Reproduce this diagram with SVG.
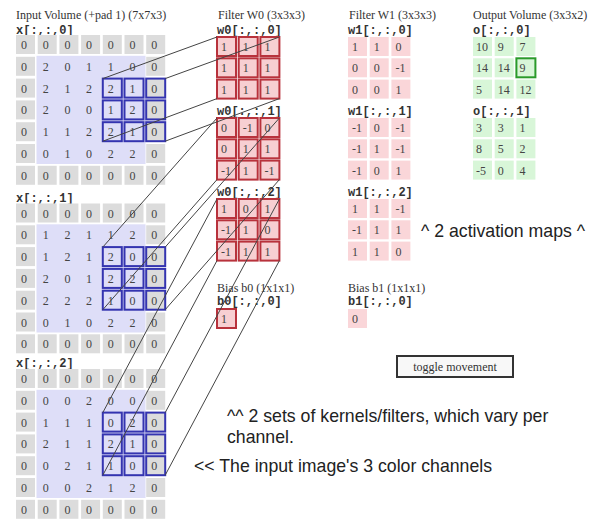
<svg xmlns="http://www.w3.org/2000/svg" width="599" height="523" viewBox="0 0 599 523">
<style>
.t{font-family:"Liberation Serif","Times New Roman",serif;font-size:12px;fill:#333}
.m{font-family:"Liberation Mono","Courier New",monospace;font-size:12px;font-weight:bold;fill:#333}
.n{font-family:"Liberation Serif","Times New Roman",serif;font-size:12px;fill:#444}
.s{font-family:"Liberation Sans",Arial,sans-serif;font-size:17.7px;fill:#222}
.pad{fill:#dcdcdc}
.in{fill:#dedef8}
.win{fill:none;stroke:#3434b0;stroke-width:2}
.wf{fill:#f7cfd2;stroke:#b8323c;stroke-width:2}
.wp{fill:#fad6d9}
.og{fill:#d8f6d8}
.oh{fill:none;stroke:#2a9a2a;stroke-width:2}
.ln{stroke:#444;stroke-width:1;fill:none}
</style>
<rect width="599" height="523" fill="#fff"/>

<g id="input">
<text class="t" x="16" y="19">Input Volume (+pad 1) (7x7x3)</text>
</g>

<g id="x0">
<text class="m" x="16" y="34">x[:,:,0]</text>
<g>
<rect class="pad" x="16" y="35" width="19" height="19"/><rect class="pad" x="37.7" y="35" width="19" height="19"/><rect class="pad" x="59.4" y="35" width="19" height="19"/><rect class="pad" x="81.1" y="35" width="19" height="19"/><rect class="pad" x="102.8" y="35" width="19" height="19"/><rect class="pad" x="124.5" y="35" width="19" height="19"/><rect class="pad" x="146.2" y="35" width="19" height="19"/>
<rect class="pad" x="16" y="165.8" width="19" height="19"/><rect class="pad" x="37.7" y="165.8" width="19" height="19"/><rect class="pad" x="59.4" y="165.8" width="19" height="19"/><rect class="pad" x="81.1" y="165.8" width="19" height="19"/><rect class="pad" x="102.8" y="165.8" width="19" height="19"/><rect class="pad" x="124.5" y="165.8" width="19" height="19"/><rect class="pad" x="146.2" y="165.8" width="19" height="19"/>
<rect class="pad" x="16" y="56.8" width="19" height="19"/><rect class="pad" x="16" y="78.6" width="19" height="19"/><rect class="pad" x="16" y="100.4" width="19" height="19"/><rect class="pad" x="16" y="122.2" width="19" height="19"/><rect class="pad" x="16" y="144" width="19" height="19"/>
<rect class="pad" x="146.2" y="56.8" width="19" height="19"/><rect class="pad" x="146.2" y="78.6" width="19" height="19"/><rect class="pad" x="146.2" y="100.4" width="19" height="19"/><rect class="pad" x="146.2" y="122.2" width="19" height="19"/><rect class="pad" x="146.2" y="144" width="19" height="19"/>
<rect class="in" x="36.5" y="55.8" width="109" height="108.2"/>
</g>
<g class="n">
<text x="21" y="49">0</text><text x="42.7" y="49">0</text><text x="64.4" y="49">0</text><text x="86.1" y="49">0</text><text x="107.8" y="49">0</text><text x="129.5" y="49">0</text><text x="151.2" y="49">0</text>
<text x="21" y="70.8">0</text><text x="42.7" y="70.8">2</text><text x="64.4" y="70.8">0</text><text x="86.1" y="70.8">1</text><text x="107.8" y="70.8">1</text><text x="129.5" y="70.8">0</text><text x="151.2" y="70.8">0</text>
<text x="21" y="92.6">0</text><text x="42.7" y="92.6">2</text><text x="64.4" y="92.6">1</text><text x="86.1" y="92.6">2</text><text x="107.8" y="92.6">2</text><text x="129.5" y="92.6">1</text><text x="151.2" y="92.6">0</text>
<text x="21" y="114.4">0</text><text x="42.7" y="114.4">2</text><text x="64.4" y="114.4">0</text><text x="86.1" y="114.4">0</text><text x="107.8" y="114.4">1</text><text x="129.5" y="114.4">2</text><text x="151.2" y="114.4">0</text>
<text x="21" y="136.2">0</text><text x="42.7" y="136.2">1</text><text x="64.4" y="136.2">1</text><text x="86.1" y="136.2">2</text><text x="107.8" y="136.2">2</text><text x="129.5" y="136.2">1</text><text x="151.2" y="136.2">0</text>
<text x="21" y="158">0</text><text x="42.7" y="158">0</text><text x="64.4" y="158">1</text><text x="86.1" y="158">0</text><text x="107.8" y="158">2</text><text x="129.5" y="158">2</text><text x="151.2" y="158">0</text>
<text x="21" y="179.8">0</text><text x="42.7" y="179.8">0</text><text x="64.4" y="179.8">0</text><text x="86.1" y="179.8">0</text><text x="107.8" y="179.8">0</text><text x="129.5" y="179.8">0</text><text x="151.2" y="179.8">0</text>
</g>
<g>
<rect class="win" x="102.8" y="78.6" width="19" height="19"/><rect class="win" x="124.5" y="78.6" width="19" height="19"/><rect class="win" x="146.2" y="78.6" width="19" height="19"/>
<rect class="win" x="102.8" y="100.4" width="19" height="19"/><rect class="win" x="124.5" y="100.4" width="19" height="19"/><rect class="win" x="146.2" y="100.4" width="19" height="19"/>
<rect class="win" x="102.8" y="122.2" width="19" height="19"/><rect class="win" x="124.5" y="122.2" width="19" height="19"/><rect class="win" x="146.2" y="122.2" width="19" height="19"/>
</g>
</g>

<g id="x1">
<text class="m" x="16" y="202">x[:,:,1]</text>
<g>
<rect class="pad" x="16" y="203.5" width="19" height="19"/><rect class="pad" x="37.7" y="203.5" width="19" height="19"/><rect class="pad" x="59.4" y="203.5" width="19" height="19"/><rect class="pad" x="81.1" y="203.5" width="19" height="19"/><rect class="pad" x="102.8" y="203.5" width="19" height="19"/><rect class="pad" x="124.5" y="203.5" width="19" height="19"/><rect class="pad" x="146.2" y="203.5" width="19" height="19"/>
<rect class="pad" x="16" y="334.3" width="19" height="19"/><rect class="pad" x="37.7" y="334.3" width="19" height="19"/><rect class="pad" x="59.4" y="334.3" width="19" height="19"/><rect class="pad" x="81.1" y="334.3" width="19" height="19"/><rect class="pad" x="102.8" y="334.3" width="19" height="19"/><rect class="pad" x="124.5" y="334.3" width="19" height="19"/><rect class="pad" x="146.2" y="334.3" width="19" height="19"/>
<rect class="pad" x="16" y="225.3" width="19" height="19"/><rect class="pad" x="16" y="247.1" width="19" height="19"/><rect class="pad" x="16" y="268.9" width="19" height="19"/><rect class="pad" x="16" y="290.7" width="19" height="19"/><rect class="pad" x="16" y="312.5" width="19" height="19"/>
<rect class="pad" x="146.2" y="225.3" width="19" height="19"/><rect class="pad" x="146.2" y="247.1" width="19" height="19"/><rect class="pad" x="146.2" y="268.9" width="19" height="19"/><rect class="pad" x="146.2" y="290.7" width="19" height="19"/><rect class="pad" x="146.2" y="312.5" width="19" height="19"/>
<rect class="in" x="36.5" y="224.3" width="109" height="108.2"/>
</g>
<g class="n">
<text x="21" y="217.5">0</text><text x="42.7" y="217.5">0</text><text x="64.4" y="217.5">0</text><text x="86.1" y="217.5">0</text><text x="107.8" y="217.5">0</text><text x="129.5" y="217.5">0</text><text x="151.2" y="217.5">0</text>
<text x="21" y="239.3">0</text><text x="42.7" y="239.3">1</text><text x="64.4" y="239.3">2</text><text x="86.1" y="239.3">1</text><text x="107.8" y="239.3">1</text><text x="129.5" y="239.3">2</text><text x="151.2" y="239.3">0</text>
<text x="21" y="261.1">0</text><text x="42.7" y="261.1">1</text><text x="64.4" y="261.1">2</text><text x="86.1" y="261.1">1</text><text x="107.8" y="261.1">2</text><text x="129.5" y="261.1">0</text><text x="151.2" y="261.1">0</text>
<text x="21" y="282.9">0</text><text x="42.7" y="282.9">2</text><text x="64.4" y="282.9">0</text><text x="86.1" y="282.9">1</text><text x="107.8" y="282.9">2</text><text x="129.5" y="282.9">2</text><text x="151.2" y="282.9">0</text>
<text x="21" y="304.7">0</text><text x="42.7" y="304.7">2</text><text x="64.4" y="304.7">2</text><text x="86.1" y="304.7">2</text><text x="107.8" y="304.7">1</text><text x="129.5" y="304.7">0</text><text x="151.2" y="304.7">0</text>
<text x="21" y="326.5">0</text><text x="42.7" y="326.5">0</text><text x="64.4" y="326.5">1</text><text x="86.1" y="326.5">0</text><text x="107.8" y="326.5">2</text><text x="129.5" y="326.5">2</text><text x="151.2" y="326.5">0</text>
<text x="21" y="348.3">0</text><text x="42.7" y="348.3">0</text><text x="64.4" y="348.3">0</text><text x="86.1" y="348.3">0</text><text x="107.8" y="348.3">0</text><text x="129.5" y="348.3">0</text><text x="151.2" y="348.3">0</text>
</g>
<g>
<rect class="win" x="102.8" y="247.1" width="19" height="19"/><rect class="win" x="124.5" y="247.1" width="19" height="19"/><rect class="win" x="146.2" y="247.1" width="19" height="19"/>
<rect class="win" x="102.8" y="268.9" width="19" height="19"/><rect class="win" x="124.5" y="268.9" width="19" height="19"/><rect class="win" x="146.2" y="268.9" width="19" height="19"/>
<rect class="win" x="102.8" y="290.7" width="19" height="19"/><rect class="win" x="124.5" y="290.7" width="19" height="19"/><rect class="win" x="146.2" y="290.7" width="19" height="19"/>
</g>
</g>

<g id="x2">
<text class="m" x="16" y="367">x[:,:,2]</text>
<g>
<rect class="pad" x="16" y="369" width="19" height="19"/><rect class="pad" x="37.7" y="369" width="19" height="19"/><rect class="pad" x="59.4" y="369" width="19" height="19"/><rect class="pad" x="81.1" y="369" width="19" height="19"/><rect class="pad" x="102.8" y="369" width="19" height="19"/><rect class="pad" x="124.5" y="369" width="19" height="19"/><rect class="pad" x="146.2" y="369" width="19" height="19"/>
<rect class="pad" x="16" y="499.8" width="19" height="19"/><rect class="pad" x="37.7" y="499.8" width="19" height="19"/><rect class="pad" x="59.4" y="499.8" width="19" height="19"/><rect class="pad" x="81.1" y="499.8" width="19" height="19"/><rect class="pad" x="102.8" y="499.8" width="19" height="19"/><rect class="pad" x="124.5" y="499.8" width="19" height="19"/><rect class="pad" x="146.2" y="499.8" width="19" height="19"/>
<rect class="pad" x="16" y="390.8" width="19" height="19"/><rect class="pad" x="16" y="412.6" width="19" height="19"/><rect class="pad" x="16" y="434.4" width="19" height="19"/><rect class="pad" x="16" y="456.2" width="19" height="19"/><rect class="pad" x="16" y="478" width="19" height="19"/>
<rect class="pad" x="146.2" y="390.8" width="19" height="19"/><rect class="pad" x="146.2" y="412.6" width="19" height="19"/><rect class="pad" x="146.2" y="434.4" width="19" height="19"/><rect class="pad" x="146.2" y="456.2" width="19" height="19"/><rect class="pad" x="146.2" y="478" width="19" height="19"/>
<rect class="in" x="36.5" y="389.8" width="109" height="108.2"/>
</g>
<g class="n">
<text x="21" y="383">0</text><text x="42.7" y="383">0</text><text x="64.4" y="383">0</text><text x="86.1" y="383">0</text><text x="107.8" y="383">0</text><text x="129.5" y="383">0</text><text x="151.2" y="383">0</text>
<text x="21" y="404.8">0</text><text x="42.7" y="404.8">0</text><text x="64.4" y="404.8">0</text><text x="86.1" y="404.8">2</text><text x="107.8" y="404.8">0</text><text x="129.5" y="404.8">0</text><text x="151.2" y="404.8">0</text>
<text x="21" y="426.6">0</text><text x="42.7" y="426.6">1</text><text x="64.4" y="426.6">1</text><text x="86.1" y="426.6">1</text><text x="107.8" y="426.6">0</text><text x="129.5" y="426.6">2</text><text x="151.2" y="426.6">0</text>
<text x="21" y="448.4">0</text><text x="42.7" y="448.4">2</text><text x="64.4" y="448.4">1</text><text x="86.1" y="448.4">1</text><text x="107.8" y="448.4">2</text><text x="129.5" y="448.4">1</text><text x="151.2" y="448.4">0</text>
<text x="21" y="470.2">0</text><text x="42.7" y="470.2">0</text><text x="64.4" y="470.2">2</text><text x="86.1" y="470.2">1</text><text x="107.8" y="470.2">1</text><text x="129.5" y="470.2">0</text><text x="151.2" y="470.2">0</text>
<text x="21" y="492">0</text><text x="42.7" y="492">0</text><text x="64.4" y="492">0</text><text x="86.1" y="492">2</text><text x="107.8" y="492">1</text><text x="129.5" y="492">2</text><text x="151.2" y="492">0</text>
<text x="21" y="513.8">0</text><text x="42.7" y="513.8">0</text><text x="64.4" y="513.8">0</text><text x="86.1" y="513.8">0</text><text x="107.8" y="513.8">0</text><text x="129.5" y="513.8">0</text><text x="151.2" y="513.8">0</text>
</g>
<g>
<rect class="win" x="102.8" y="412.6" width="19" height="19"/><rect class="win" x="124.5" y="412.6" width="19" height="19"/><rect class="win" x="146.2" y="412.6" width="19" height="19"/>
<rect class="win" x="102.8" y="434.4" width="19" height="19"/><rect class="win" x="124.5" y="434.4" width="19" height="19"/><rect class="win" x="146.2" y="434.4" width="19" height="19"/>
<rect class="win" x="102.8" y="456.2" width="19" height="19"/><rect class="win" x="124.5" y="456.2" width="19" height="19"/><rect class="win" x="146.2" y="456.2" width="19" height="19"/>
</g>
</g>

<g id="w0">
<text class="t" x="218" y="19">Filter W0 (3x3x3)</text>
<text class="m" x="217" y="34">w0[:,:,0]</text>
<rect class="wf" x="217" y="37" width="19" height="19"/><rect class="wf" x="238.7" y="37" width="19" height="19"/><rect class="wf" x="260.4" y="37" width="19" height="19"/>
<rect class="wf" x="217" y="58.3" width="19" height="19"/><rect class="wf" x="238.7" y="58.3" width="19" height="19"/><rect class="wf" x="260.4" y="58.3" width="19" height="19"/>
<rect class="wf" x="217" y="79.6" width="19" height="19"/><rect class="wf" x="238.7" y="79.6" width="19" height="19"/><rect class="wf" x="260.4" y="79.6" width="19" height="19"/>
<g class="n">
<text x="221" y="51">1</text><text x="242.7" y="51">1</text><text x="264.4" y="51">1</text>
<text x="221" y="72.3">1</text><text x="242.7" y="72.3">1</text><text x="264.4" y="72.3">1</text>
<text x="221" y="93.6">1</text><text x="242.7" y="93.6">1</text><text x="264.4" y="93.6">1</text>
</g>
<text class="m" x="217" y="115">w0[:,:,1]</text>
<rect class="wf" x="217" y="118" width="19" height="19"/><rect class="wf" x="238.7" y="118" width="19" height="19"/><rect class="wf" x="260.4" y="118" width="19" height="19"/>
<rect class="wf" x="217" y="139.3" width="19" height="19"/><rect class="wf" x="238.7" y="139.3" width="19" height="19"/><rect class="wf" x="260.4" y="139.3" width="19" height="19"/>
<rect class="wf" x="217" y="160.6" width="19" height="19"/><rect class="wf" x="238.7" y="160.6" width="19" height="19"/><rect class="wf" x="260.4" y="160.6" width="19" height="19"/>
<g class="n">
<text x="221" y="132">0</text><text x="242.7" y="132">-1</text><text x="264.4" y="132">0</text>
<text x="221" y="153.3">0</text><text x="242.7" y="153.3">1</text><text x="264.4" y="153.3">1</text>
<text x="221" y="174.6">-1</text><text x="242.7" y="174.6">1</text><text x="264.4" y="174.6">-1</text>
</g>
<text class="m" x="217" y="196">w0[:,:,2]</text>
<rect class="wf" x="217" y="199" width="19" height="19"/><rect class="wf" x="238.7" y="199" width="19" height="19"/><rect class="wf" x="260.4" y="199" width="19" height="19"/>
<rect class="wf" x="217" y="220.3" width="19" height="19"/><rect class="wf" x="238.7" y="220.3" width="19" height="19"/><rect class="wf" x="260.4" y="220.3" width="19" height="19"/>
<rect class="wf" x="217" y="241.6" width="19" height="19"/><rect class="wf" x="238.7" y="241.6" width="19" height="19"/><rect class="wf" x="260.4" y="241.6" width="19" height="19"/>
<g class="n">
<text x="221" y="213">1</text><text x="242.7" y="213">0</text><text x="264.4" y="213">1</text>
<text x="221" y="234.3">-1</text><text x="242.7" y="234.3">1</text><text x="264.4" y="234.3">0</text>
<text x="221" y="255.6">-1</text><text x="242.7" y="255.6">1</text><text x="264.4" y="255.6">1</text>
</g>
</g>

<g id="b0">
<text class="t" x="217" y="292">Bias b0 (1x1x1)</text>
<text class="m" x="217" y="305">b0[:,:,0]</text>
<rect class="wf" x="217" y="309" width="19" height="19"/>
<text class="n" x="221" y="323">1</text>
</g>

<g id="w1">
<text class="t" x="349" y="19">Filter W1 (3x3x3)</text>
<text class="m" x="348" y="34">w1[:,:,0]</text>
<rect class="wp" x="348" y="37" width="19" height="19"/><rect class="wp" x="369.7" y="37" width="19" height="19"/><rect class="wp" x="391.4" y="37" width="19" height="19"/>
<rect class="wp" x="348" y="58.3" width="19" height="19"/><rect class="wp" x="369.7" y="58.3" width="19" height="19"/><rect class="wp" x="391.4" y="58.3" width="19" height="19"/>
<rect class="wp" x="348" y="79.6" width="19" height="19"/><rect class="wp" x="369.7" y="79.6" width="19" height="19"/><rect class="wp" x="391.4" y="79.6" width="19" height="19"/>
<g class="n">
<text x="352" y="51">1</text><text x="373.7" y="51">1</text><text x="395.4" y="51">0</text>
<text x="352" y="72.3">0</text><text x="373.7" y="72.3">0</text><text x="395.4" y="72.3">-1</text>
<text x="352" y="93.6">0</text><text x="373.7" y="93.6">0</text><text x="395.4" y="93.6">1</text>
</g>
<text class="m" x="348" y="115">w1[:,:,1]</text>
<rect class="wp" x="348" y="118" width="19" height="19"/><rect class="wp" x="369.7" y="118" width="19" height="19"/><rect class="wp" x="391.4" y="118" width="19" height="19"/>
<rect class="wp" x="348" y="139.3" width="19" height="19"/><rect class="wp" x="369.7" y="139.3" width="19" height="19"/><rect class="wp" x="391.4" y="139.3" width="19" height="19"/>
<rect class="wp" x="348" y="160.6" width="19" height="19"/><rect class="wp" x="369.7" y="160.6" width="19" height="19"/><rect class="wp" x="391.4" y="160.6" width="19" height="19"/>
<g class="n">
<text x="352" y="132">-1</text><text x="373.7" y="132">0</text><text x="395.4" y="132">-1</text>
<text x="352" y="153.3">-1</text><text x="373.7" y="153.3">1</text><text x="395.4" y="153.3">-1</text>
<text x="352" y="174.6">-1</text><text x="373.7" y="174.6">0</text><text x="395.4" y="174.6">1</text>
</g>
<text class="m" x="348" y="196">w1[:,:,2]</text>
<rect class="wp" x="348" y="199" width="19" height="19"/><rect class="wp" x="369.7" y="199" width="19" height="19"/><rect class="wp" x="391.4" y="199" width="19" height="19"/>
<rect class="wp" x="348" y="220.3" width="19" height="19"/><rect class="wp" x="369.7" y="220.3" width="19" height="19"/><rect class="wp" x="391.4" y="220.3" width="19" height="19"/>
<rect class="wp" x="348" y="241.6" width="19" height="19"/><rect class="wp" x="369.7" y="241.6" width="19" height="19"/><rect class="wp" x="391.4" y="241.6" width="19" height="19"/>
<g class="n">
<text x="352" y="213">1</text><text x="373.7" y="213">1</text><text x="395.4" y="213">-1</text>
<text x="352" y="234.3">-1</text><text x="373.7" y="234.3">1</text><text x="395.4" y="234.3">1</text>
<text x="352" y="255.6">1</text><text x="373.7" y="255.6">1</text><text x="395.4" y="255.6">0</text>
</g>
</g>

<g id="b1">
<text class="t" x="348" y="292">Bias b1 (1x1x1)</text>
<text class="m" x="348" y="305">b1[:,:,0]</text>
<rect class="wp" x="348" y="309" width="19" height="19"/>
<text class="n" x="352" y="323">0</text>
</g>

<g id="output">
<text class="t" x="473" y="19">Output Volume (3x3x2)</text>
<text class="m" x="473" y="34">o[:,:,0]</text>
<rect class="og" x="473" y="37" width="19" height="19"/><rect class="og" x="494.7" y="37" width="19" height="19"/><rect class="og" x="516.4" y="37" width="19" height="19"/>
<rect class="og" x="473" y="58.3" width="19" height="19"/><rect class="og" x="494.7" y="58.3" width="19" height="19"/><rect class="og" x="516.4" y="58.3" width="19" height="19"/>
<rect class="og" x="473" y="79.6" width="19" height="19"/><rect class="og" x="494.7" y="79.6" width="19" height="19"/><rect class="og" x="516.4" y="79.6" width="19" height="19"/>
<rect class="oh" x="516.4" y="58.3" width="19" height="19"/>
<g class="n">
<text x="476" y="51">10</text><text x="497.7" y="51">9</text><text x="519.4" y="51">7</text>
<text x="476" y="72.3">14</text><text x="497.7" y="72.3">14</text><text x="519.4" y="72.3">9</text>
<text x="476" y="93.6">5</text><text x="497.7" y="93.6">14</text><text x="519.4" y="93.6">12</text>
</g>
<text class="m" x="473" y="115">o[:,:,1]</text>
<rect class="og" x="473" y="118" width="19" height="19"/><rect class="og" x="494.7" y="118" width="19" height="19"/><rect class="og" x="516.4" y="118" width="19" height="19"/>
<rect class="og" x="473" y="139.3" width="19" height="19"/><rect class="og" x="494.7" y="139.3" width="19" height="19"/><rect class="og" x="516.4" y="139.3" width="19" height="19"/>
<rect class="og" x="473" y="160.6" width="19" height="19"/><rect class="og" x="494.7" y="160.6" width="19" height="19"/><rect class="og" x="516.4" y="160.6" width="19" height="19"/>
<g class="n">
<text x="476" y="132">3</text><text x="497.7" y="132">3</text><text x="519.4" y="132">1</text>
<text x="476" y="153.3">8</text><text x="497.7" y="153.3">5</text><text x="519.4" y="153.3">2</text>
<text x="476" y="174.6">-5</text><text x="497.7" y="174.6">0</text><text x="519.4" y="174.6">4</text>
</g>
</g>

<g id="connectors">
<line class="ln" x1="102.8" y1="78.6" x2="217" y2="37"/>
<line class="ln" x1="165.2" y1="78.6" x2="279.4" y2="37"/>
<line class="ln" x1="102.8" y1="141.2" x2="217" y2="98.6"/>
<line class="ln" x1="165.2" y1="141.2" x2="279.4" y2="98.6"/>
<line class="ln" x1="102.8" y1="247.1" x2="217" y2="118"/>
<line class="ln" x1="165.2" y1="247.1" x2="279.4" y2="118"/>
<line class="ln" x1="102.8" y1="309.7" x2="217" y2="179.6"/>
<line class="ln" x1="165.2" y1="309.7" x2="279.4" y2="179.6"/>
<line class="ln" x1="102.8" y1="412.6" x2="217" y2="199"/>
<line class="ln" x1="165.2" y1="412.6" x2="279.4" y2="199"/>
<line class="ln" x1="102.8" y1="475.2" x2="217" y2="260.6"/>
<line class="ln" x1="165.2" y1="475.2" x2="279.4" y2="260.6"/>
</g>

<g id="notes">
<text class="s" x="421" y="237">^ 2 activation maps ^</text>
<text class="s" x="227" y="422">^^ 2 sets of kernels/filters, which vary per</text>
<text class="s" x="227" y="443">channel.</text>
<text class="s" x="194" y="472">&lt;&lt; The input image's 3 color channels</text>
</g>

<g id="toggle">
<rect x="397" y="356" width="116" height="21" fill="#f8f8f8" stroke="#333" stroke-width="2"/>
<text class="t" x="455" y="370.5" text-anchor="middle" font-size="11px">toggle movement</text>
</g>
</svg>
